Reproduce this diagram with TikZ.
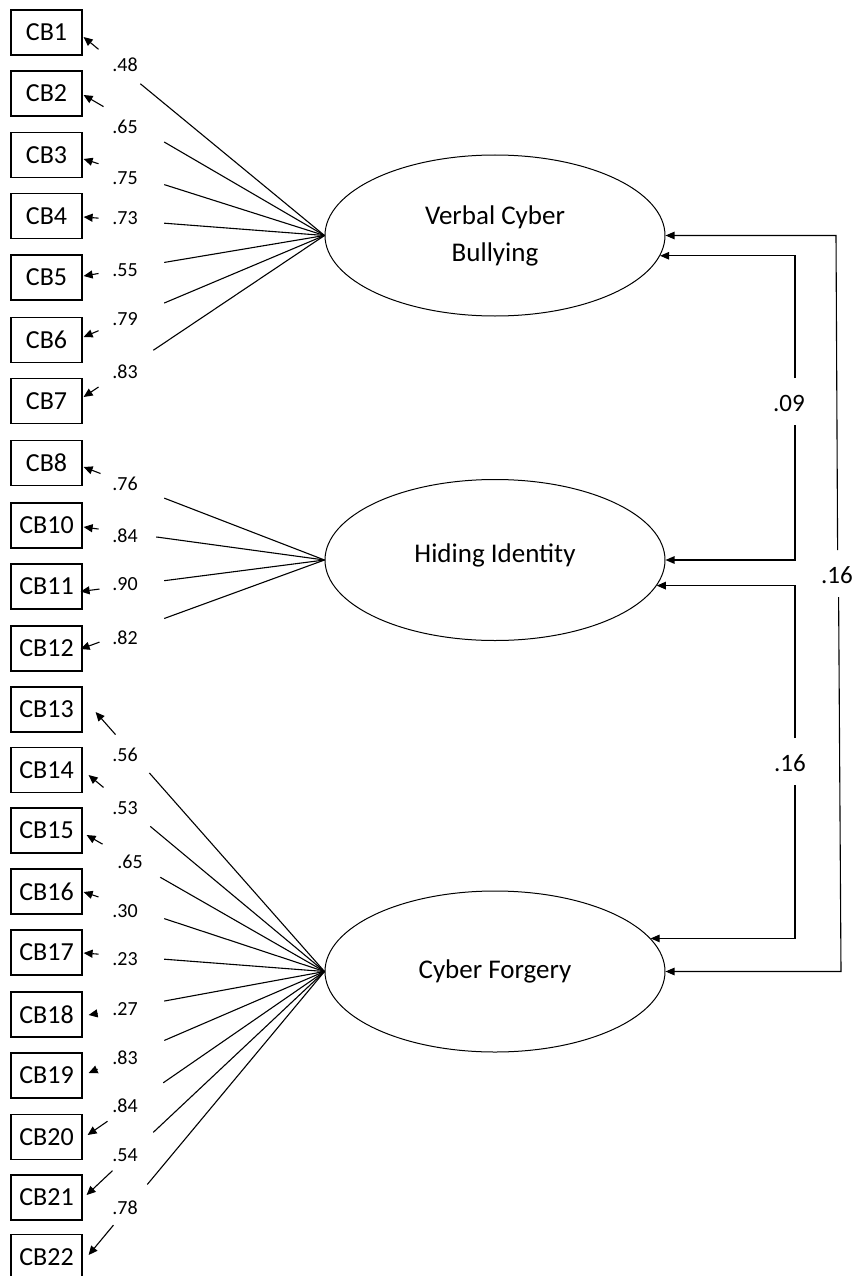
\documentclass[tikz,border=0pt]{standalone}
\usepackage{fontspec}
\setmainfont{Carlito}
\usetikzlibrary{shapes.geometric,arrows.meta,calc}
\begin{document}
\begin{tikzpicture}[x=1pt,y=-1pt,
  obs/.style={draw,line width=1.2pt,minimum width=71pt,minimum height=45pt,inner sep=0pt,font=\fontsize{26}{30}\selectfont},
  latent/.style={draw,ellipse,line width=1pt,minimum width=340pt,minimum height=161pt,inner sep=0pt,font=\fontsize{27}{37}\selectfont,align=center},
  load/.style={line width=1.1pt},
  loadarr/.style={line width=1.1pt,-{Triangle[length=9pt,width=8pt]}},
  covarr/.style={line width=1.1pt,-{Triangle[length=9pt,width=7.5pt]}},
  lablo/.style={font=\fontsize{20}{22}\selectfont,inner sep=1pt},
  labcov/.style={font=\fontsize{25}{28}\selectfont,inner sep=1pt}]
\useasboundingbox (0,0) rectangle (857,1276);

% observed indicators
\foreach \n/\t/\y in {cb1/CB1/32.5, cb2/CB2/93.5, cb3/CB3/155, cb4/CB4/216, cb5/CB5/277.5,
  cb6/CB6/340, cb7/CB7/401, cb8/CB8/463, cb10/CB10/525.5, cb11/CB11/586.5, cb12/CB12/648.5,
  cb13/CB13/709.5, cb14/CB14/770, cb15/CB15/830.5, cb16/CB16/891.5, cb17/CB17/952.5,
  cb18/CB18/1014.5, cb19/CB19/1075.5, cb20/CB20/1137, cb21/CB21/1197.5, cb22/CB22/1257}
  {\node[obs] (\n) at (46.5,\y) {\t};}

% latent factors
\node[latent] (vcb) at (495,235.5) {Verbal Cyber\\Bullying};
\node[latent] (hi) at (495,560) {\raisebox{13pt}{Hiding Identity}};
\node[latent] (cf) at (495,971.5) {Cyber Forgery};

% loadings
\foreach \n/\dx/\dy/\tl/\st/\lab/\lx/\ly/\lat in {
  cb1/1/4.5/98/140/.48/125/65/vcb,
  cb2/1/1.5/103/164/.65/125/127/vcb,
  cb3/1/4/98/164/.75/125/178/vcb,
  cb4/1/1/98/164/.73/125/218/vcb,
  cb5/1/-1.5/98/164/.55/125/270/vcb,
  cb6/1/-3/98/164/.79/125/319/vcb,
  cb7/1/-4/98/153/.83/125/372/vcb,
  cb8/1/4/100/164/.76/125/484/hi,
  cb10/1/1.5/98/156/.84/125/536/hi,
  cb11/-2/5/99/164/.90/125/584/hi,
  cb12/-2/0.5/99/164/.82/125/638/hi,
  cb13/13/2.5/115/149/.56/125/755/cf,
  cb14/6/5/103/150/.53/125/808/cf,
  cb15/4/4.5/102/160/.65/130/862/cf,
  cb16/1/0.5/98/164/.30/125/911/cf,
  cb17/1/0.5/98/164/.23/125/959/cf,
  cb18/6/0.5/97/164/.27/125/1009/cf,
  cb19/6/-2.5/97/164/.83/125/1058/cf,
  cb20/5/-2/107/163/.84/125/1106/cf,
  cb21/4/-2.5/112/153/.54/125/1155/cf,
  cb22/6/-2/113/147/.78/125/1208/cf}
{
  \pgfmathsetmacro\fa{(\tl-82-\dx)/(325-82-\dx)}
  \pgfmathsetmacro\fb{(\st-82-\dx)/(325-82-\dx)}
  \coordinate (tp) at ($(\n.east)+(\dx,\dy)$);
  \draw[loadarr] ($(tp)!\fa!(\lat.west)$) -- (tp);
  \draw[load] ($(tp)!\fb!(\lat.west)$) -- (\lat.west);
  \node[lablo] at (\lx,\ly) {\lab};
}

% covariances
\coordinate (ot) at (836,0);
\coordinate (ob) at (841,0);
\coordinate (ix) at (795,0);
\coordinate (o1) at (837.6,550);
\coordinate (o2) at (838.6,597);
\coordinate (a1) at (795,378);
\coordinate (a2) at (795,425);
\coordinate (b1) at (795,738);
\coordinate (b2) at (795,785);

\draw[covarr] (o1) -- (vcb.east -| ot) -- (vcb.east);
\draw[covarr] (o2) -- (cf.east -| ob) -- (cf.east);
\node[labcov] (c3) at (837,575) {.16};

\draw[covarr] (a1) -- (ix |- vcb.-7.5) -- (vcb.-7.5);
\draw[covarr] (a2) -- (ix |- hi.east) -- (hi.east);
\node[labcov] (c1) at (789,403) {.09};

\draw[covarr] (b1) -- (ix |- hi.-9.2) -- (hi.-9.2);
\draw[covarr] (b2) -- (ix |- cf.12.2) -- (cf.12.2);
\node[labcov] (c2) at (790,763) {.16};
\end{tikzpicture}
\end{document}
